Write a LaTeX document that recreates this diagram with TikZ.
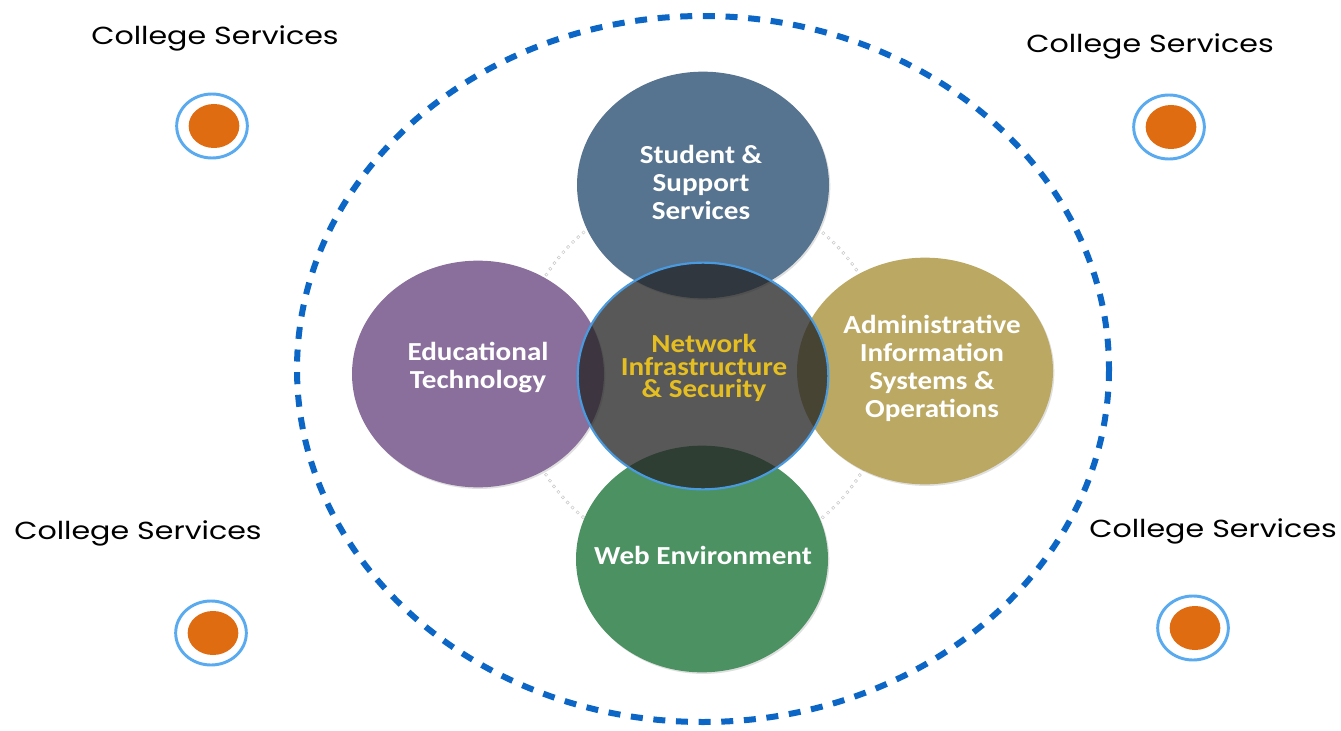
\documentclass[tikz,border=0pt]{standalone}
\usepackage{fontspec}
\setmainfont{Carlito}[FakeStretch=1.12]
\newfontfamily\gothic{Poppins}[FakeStretch=1.22]
\usetikzlibrary{shapes.geometric,shadows}

\definecolor{slate}{HTML}{56738F}
\definecolor{plum}{HTML}{8A6E9C}
\definecolor{khaki}{HTML}{BBA862}
\definecolor{leaf}{HTML}{4B9162}
\definecolor{core}{HTML}{262626}
\definecolor{coreedge}{HTML}{4A9AE0}
\definecolor{gold}{HTML}{E5BE22}
\definecolor{orbit}{HTML}{0B66C6}
\definecolor{ember}{HTML}{E06C12}
\definecolor{halo}{HTML}{5AAAF0}

\tikzset{
  bubble/.style={ellipse, minimum width=189pt, minimum height=170pt, inner sep=0pt,
    drop shadow={opacity=0.25, shadow xshift=1pt, shadow yshift=-1.2pt}},
  bubtext/.style={align=center, text=white, font=\fontsize{19.5}{21}\selectfont\bfseries},
  coretext/.style={align=center, text=gold, font=\fontsize{19.5}{17}\selectfont\bfseries},
  svclabel/.style={font=\gothic\fontsize{18.5}{20}\selectfont, text=black},
  ringdot/.style={ellipse, draw=halo, line width=2.2pt, fill=white, minimum width=53pt, minimum height=48pt, inner sep=0pt},
  emberdot/.style={ellipse, fill=ember, minimum width=38pt, minimum height=33pt, inner sep=0pt},
}

\begin{document}
\begin{tikzpicture}[x=0.75pt,y=-0.75pt]
\useasboundingbox (0,0) rectangle (1341,731);
\fill[white] (0,0) rectangle (1341,731);

% dashed outer boundary
\coordinate (hub) at (703,369);
\draw[orbit, line width=4.5pt, dash pattern=on 9pt off 8pt] (hub) ellipse [x radius=406, y radius=353];

% faint ring of small circles behind the bubbles
\foreach \a in {0,2.17,...,358}
  \draw[black!22, line width=0.35pt, shift={(703,375)}] (\a:186) circle [radius=1.6];

% four service bubbles
\node[bubble, fill=slate] (student) at (703,185) {};
\node[bubble, fill=plum]  (edtech)  at (478,374) {};
\node[bubble, fill=khaki, minimum width=192pt] (admin) at (925,371) {};
\node[bubble, fill=leaf]  (web)     at (702,559) {};

% translucent core
\node[ellipse, minimum width=188pt, minimum height=170pt, inner sep=0pt,
      fill=core, fill opacity=0.77, draw=coreedge, draw opacity=1, line width=1.6pt] (net) at (703,376) {};

% bubble captions
\node[bubtext] (student-t) at (701,182) {Student \&\\Support\\Services};
\node[bubtext] (edtech-t)  at (478,368) {Educational\\Technology};
\node[bubtext] (admin-t)   at (932,368) {Administrative\\Information\\Systems \&\\Operations};
\node[bubtext] (web-t)     at (703,555) {Web Environment};
\node[coretext] (net-t)    at (704,368) {Network\\Infrastructure\\\& Security};

% corner labels with markers
\node[svclabel] (cs-tl) at (215,38)  {College Services};
\node[svclabel] (cs-tr) at (1150,46) {College Services};
\node[svclabel] (cs-bl) at (138,533) {College Services};
\node[svclabel] (cs-br) at (1213,531) {College Services};

\node[ringdot] (m-tl) at (212,126) {};
\node[emberdot] (o-tl) at (214,126) {};
\node[ringdot] (m-tr) at (1169,127) {};
\node[emberdot] (o-tr) at (1171,127) {};
\node[ringdot] (m-bl) at (211,633) {};
\node[emberdot] (o-bl) at (213,633) {};
\node[ringdot] (m-br) at (1193,628) {};
\node[emberdot] (o-br) at (1195,628) {};
\end{tikzpicture}
\end{document}
